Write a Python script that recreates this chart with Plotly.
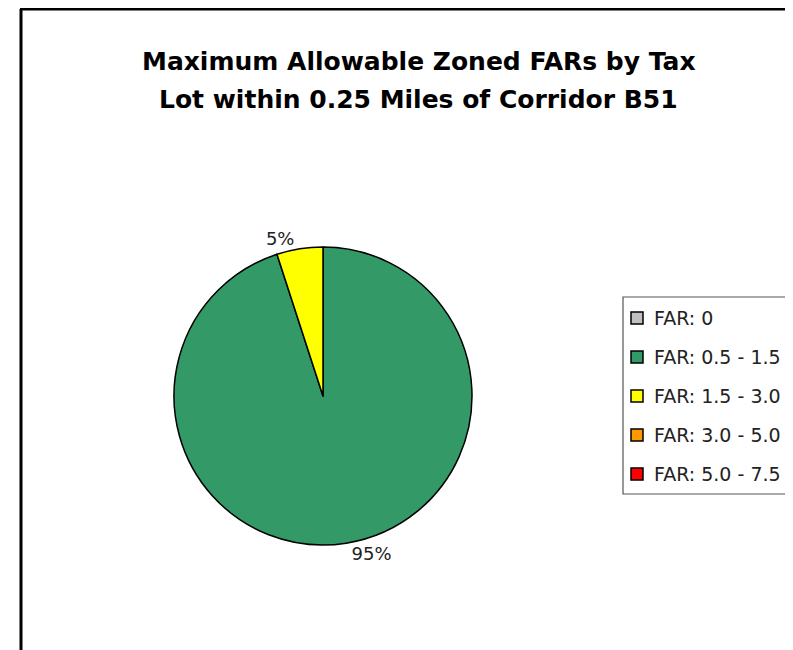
import plotly.graph_objects as go

# ---- data ----
categories = ["FAR: 0", "FAR: 0.5 - 1.5", "FAR: 1.5 - 3.0", "FAR: 3.0 - 5.0", "FAR: 5.0 - 7.5"]
shares = [0, 95, 5, 0, 0]
colors = ["#C0C0C0", "#339966", "#FFFF00", "#FF9900", "#FF0000"]
title_lines = ["Maximum Allowable Zoned FARs by Tax", "Lot within 0.25 Miles of Corridor B51"]

W, H = 793, 650
OFF = 8  # page body margin offset
FONT = "DejaVu Sans"


def px(x):
    return (x - OFF) / W


def py(y):
    return 1 - (y - OFF) / H


# pie only for non-zero slices (zero slices would be invisible anyway)
pie_labels = [c for c, v in zip(categories, shares) if v > 0]
pie_vals = [v for v in shares if v > 0]
pie_cols = [col for col, v in zip(colors, shares) if v > 0]

cx, cy, r = 323, 396, 149

fig = go.Figure(go.Pie(
    labels=pie_labels,
    values=pie_vals,
    sort=False,
    direction="clockwise",
    rotation=0,
    marker=dict(colors=pie_cols, line=dict(color="#000000", width=1.5)),
    textposition="outside",
    texttemplate="%{percent:.0%}",
    textfont=dict(family=FONT, size=18, color="#222222"),
    showlegend=False,
    hoverinfo="label+percent",
    domain=dict(x=[px(cx - r), px(cx + r)], y=[py(cy + r), py(cy - r)]),
))

shapes = []
annotations = []

# outer frame (left and top edges visible)
shapes.append(dict(type="line", xref="paper", yref="paper",
                   x0=px(21), y0=py(H + 20), x1=px(21), y1=py(9),
                   line=dict(color="#000000", width=3)))
shapes.append(dict(type="line", xref="paper", yref="paper",
                   x0=px(20), y0=py(9), x1=px(W + 20), y1=py(9),
                   line=dict(color="#000000", width=3)))

# title
for t, yc, xc in zip(title_lines, [61, 100], [419, 418]):
    annotations.append(dict(text="<b>%s</b>" % t, xref="paper", yref="paper",
                            x=px(xc), y=py(yc), xanchor="center", yanchor="middle",
                            showarrow=False,
                            font=dict(family=FONT, size=25, color="#000000")))

# legend box
shapes.append(dict(type="rect", xref="paper", yref="paper",
                   x0=px(623), y0=py(494), x1=px(W + 20), y1=py(297),
                   line=dict(color="#555555", width=1.2), fillcolor="rgba(0,0,0,0)"))

leg_top = 318
leg_step = 39
for i, (cat, col) in enumerate(zip(categories, colors)):
    yc = leg_top + i * leg_step
    shapes.append(dict(type="rect", xref="paper", yref="paper",
                       x0=px(631), x1=px(643), y0=py(yc + 6), y1=py(yc - 6),
                       line=dict(color="#000000", width=1.5), fillcolor=col))
    annotations.append(dict(text=cat, xref="paper", yref="paper",
                            x=px(652), y=py(yc), xanchor="left", yanchor="middle",
                            showarrow=False,
                            font=dict(family=FONT, size=19, color="#222222")))

fig.update_layout(
    width=W, height=H,
    margin=dict(l=0, r=0, t=0, b=0),
    paper_bgcolor="#FFFFFF",
    plot_bgcolor="#FFFFFF",
    shapes=shapes,
    annotations=annotations,
    showlegend=False,
)

fig.write_html("out.html")
